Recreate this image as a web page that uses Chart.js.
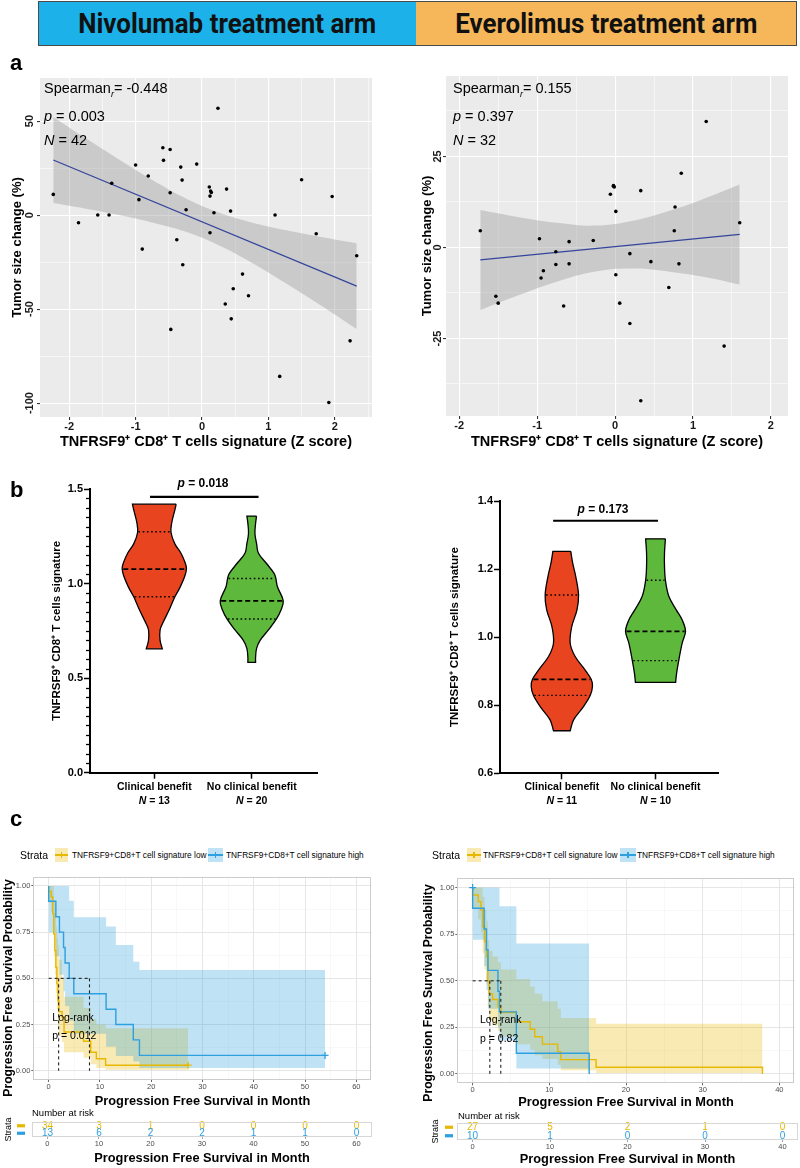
<!DOCTYPE html>
<html>
<head>
<meta charset="utf-8">
<title>TNFRSF9+ CD8+ T cells signature</title>
<script src="https://cdn.jsdelivr.net/npm/chart.js@4.4.1/dist/chart.umd.min.js"></script>
<style>
  body { margin: 0; background: #fff; font-family: "Liberation Sans", Arial, sans-serif; }
  #page { position: relative; width: 800px; height: 1168px; overflow: hidden; }
  canvas { position: absolute; }
  .t { position: absolute; white-space: nowrap; line-height: 1; color: #000; }
  .hdr { position: absolute; top: 1px; height: 43px; border: 1px solid #4a4a4a; font-family: Roboto, sans-serif;
         font-weight: 700; font-size: 27px; display: flex; align-items: center; justify-content: center; color: #111; }
  .hdr span { display: inline-block; transform: scaleX(0.96); }
  .key { position: absolute; }
</style>
</head>
<body>
<div id="page">
  <div class="hdr" style="left:38px;width:377px;background:#1cb1e8"><span>Nivolumab treatment arm</span></div>
  <div class="hdr" style="left:416px;width:380px;background:#f6b75a;border-left:none"><span>Everolimus treatment arm</span></div>
</div>
<script>
// ---- a: tumour size change vs signature z score
const nivoZ = [-2.24, -1.86, -1.57, -1.40, -1.36, -1.00, -0.95, -0.90, -0.81, -0.59, -0.58, -0.48, -0.48, -0.47,
  -0.38, -0.32, -0.30, -0.29, -0.24, -0.08, 0.11, 0.13, 0.12, 0.12, 0.18, 0.24, 0.37, 0.35, 0.43, 0.44, 0.47,
  0.61, 0.70, 1.10, 1.17, 1.50, 1.72, 1.96, 1.91, 2.23, 2.33, 0.14];
const nivoChange = [11.0, -4.1, 0, 0, 16.9, 26.6, 8.2, -18.1, 20.8, 35.8, 29.1, 34.9, 11.9, -60.8,
  -13.1, 25.5, 18.6, -26.4, 2.8, 27.1, 14.9, 12.8, 10.1, -9.4, 1.2, 56.8, 13.8, -47.3, 2.1, -55.2, -39.2,
  -31.4, -42.9, 0, -85.8, 18.8, -9.9, 9.9, -99.7, -66.9, -21.6, 12.0];
const nivoFitZ = [-2.24, 2.33];
const nivoFit = [29.3, -37.8];
const nivoBandZ = [-2.24, -1.75, -1.25, -0.75, -0.25, 0.25, 0.75, 1.25, 1.75, 2.33];
const nivoBandHi = [52.2, 40.8, 29.5, 18.7, 9.0, 1.4, -3.9, -8.0, -11.4, -15.0];
const nivoBandLo = [6.4, 3.4, 0.1, -3.9, -8.8, -16.0, -25.3, -36.0, -47.2, -60.6];

const everoZ = [-1.73, -1.53, -1.50, -0.97, -0.95, -0.92, -0.76, -0.76, -0.66, -0.59, -0.59, -0.28, -0.06, -0.02,
  -0.01, 0.01, 0.01, 0.06, 0.19, 0.19, 0.33, 0.33, 0.46, 0.69, 0.76, 0.77, 0.82, 0.85, 1.17, 1.40, 1.60, -0.02];
const everoChange = [4.6, -13.4, -15.3, 2.4, -8.4, -6.4, -1.2, -4.7, -16.1, 1.6, -4.5, 1.9, 14.6, 17.0,
  16.6, 9.9, -7.5, -15.3, -1.7, -20.9, 15.6, -42.1, -3.9, -11.0, 4.6, 11.1, -4.5, 20.4, 34.6, -27.1, 6.8, 16.8];
const everoFitZ = [-1.73, 1.60];
const everoFit = [-3.4, 3.6];
const everoBandZ = [-1.73, -1.25, -0.75, -0.25, 0.25, 0.75, 1.25, 1.60];
const everoBandHi = [10.3, 8.4, 6.8, 6.0, 7.4, 10.4, 14.3, 17.3];
const everoBandLo = [-17.2, -13.2, -9.4, -6.6, -5.8, -6.8, -8.5, -10.2];

// ---- b: violins (levels top to bottom, relative half width, quartiles)
const groups = ['Clinical benefit', 'No clinical benefit'];
const nivoBenefitLv = [1.42, 1.39, 1.32, 1.27, 1.21, 1.16, 1.11, 1.08, 1.04, 0.98, 0.93, 0.86, 0.79, 0.755, 0.70, 0.655];
const nivoBenefitW = [0.68, 0.64, 0.54, 0.52, 0.64, 0.83, 0.96, 1.0, 0.95, 0.80, 0.64, 0.46, 0.26, 0.18, 0.18, 0.25];
const nivoBenefitQ = [0.93, 1.076, 1.274];
const nivoNoBenefitLv = [1.357, 1.318, 1.265, 1.212, 1.16, 1.106, 1.053, 1.027, 0.983, 0.909, 0.86, 0.813, 0.755, 0.70, 0.656, 0.61, 0.583];
const nivoNoBenefitW = [0.15, 0.12, 0.10, 0.15, 0.21, 0.46, 0.70, 0.75, 0.80, 0.98, 0.91, 0.77, 0.52, 0.26, 0.15, 0.12, 0.12];
const nivoNoBenefitQ = [0.813, 0.909, 1.027];
const nivoN = [13, 20];

const everoBenefitLv = [1.252, 1.218, 1.178, 1.124, 1.080, 1.031, 0.982, 0.943, 0.904, 0.876, 0.855, 0.829, 0.796, 0.757, 0.725];
const everoBenefitW = [0.29, 0.35, 0.45, 0.54, 0.49, 0.32, 0.27, 0.43, 0.75, 0.95, 0.99, 0.92, 0.70, 0.38, 0.27];
const everoBenefitQ = [0.829, 0.876, 1.124];
const everoNoBenefitLv = [1.289, 1.247, 1.208, 1.167, 1.120, 1.080, 1.051, 1.017, 0.982, 0.931, 0.893, 0.867];
const everoNoBenefitW = [0.32, 0.29, 0.29, 0.32, 0.43, 0.67, 0.86, 0.97, 0.86, 0.75, 0.68, 0.65];
const everoNoBenefitQ = [0.931, 1.017, 1.167];
const everoN = [11, 10];

// ---- c: progression free survival
const nivoLowT  = [0, 0.5, 0.8, 1.0, 1.2, 1.4, 1.6, 1.8, 2.0, 2.6, 3.0, 6.8, 8.2, 9.3, 11.1, 14.9, 27.2];
const nivoLowS  = [1, 0.97, 0.94, 0.85, 0.74, 0.65, 0.56, 0.47, 0.38, 0.32, 0.29, 0.21, 0.16, 0.10, 0.065, 0.03, 0.03];
const nivoLowHi = [1, 1, 1, 1, 0.92, 0.85, 0.78, 0.72, 0.68, 0.60, 0.50, 0.40, 0.34, 0.28, 0.25, 0.23, 0.23];
const nivoLowLo = [1, 0.91, 0.86, 0.74, 0.62, 0.52, 0.42, 0.33, 0.24, 0.19, 0.155, 0.10, 0.07, 0.035, 0.015, 0.005, 0.005];
const nivoHighT  = [0, 1.4, 2.1, 2.9, 3.2, 4.0, 4.9, 11.2, 13.1, 16.5, 17.7, 38.7, 53.9];
const nivoHighS  = [1, 0.917, 0.833, 0.75, 0.667, 0.583, 0.5, 0.417, 0.333, 0.25, 0.167, 0.083, 0.083];
const nivoHighHi = [1, 1, 1, 1, 1, 1, 0.92, 0.83, 0.78, 0.68, 0.59, 0.545, 0.545];
const nivoHighLo = [1, 0.75, 0.62, 0.52, 0.43, 0.35, 0.27, 0.20, 0.13, 0.08, 0.05, 0.015, 0.015];
const nivoMedian = [1.94, 7.96];
const nivoCensLow = [27.2], nivoCensHigh = [53.9];

const everoLowT  = [0, 0.73, 1.08, 1.3, 1.56, 1.8, 1.98, 2.16, 2.6, 3.3, 3.7, 5.7, 7.5, 8.1, 9.1, 11.1, 11.5, 16.1, 27.1, 37.8, 37.8];
const everoLowS  = [1, 0.96, 0.925, 0.88, 0.79, 0.71, 0.63, 0.50, 0.43, 0.40, 0.36, 0.33, 0.28, 0.24, 0.20, 0.16, 0.12, 0.077, 0.036, 0.036, 0];
const everoLowHi = [1, 1, 1, 1, 0.95, 0.88, 0.82, 0.72, 0.66, 0.63, 0.60, 0.56, 0.51, 0.47, 0.43, 0.39, 0.35, 0.30, 0.27, 0.27, 0.27];
const everoLowLo = [1, 0.89, 0.83, 0.76, 0.65, 0.56, 0.48, 0.36, 0.29, 0.26, 0.23, 0.20, 0.16, 0.13, 0.10, 0.08, 0.05, 0.02, 0.005, 0.005, 0.005];
const everoHighT  = [0, 1.5, 1.8, 2.0, 3.3, 3.5, 5.7, 7.3, 15.2, 15.2];
const everoHighS  = [1, 0.889, 0.778, 0.667, 0.556, 0.444, 0.333, 0.111, 0.111, 0];
const everoHighHi = [1, 1, 1, 1, 1, 1, 0.90, 0.70, 0.70, 0.70];
const everoHighLo = [1, 0.72, 0.58, 0.45, 0.35, 0.25, 0.18, 0.03, 0.03, 0.03];
const everoMedian = [2.24, 3.67];
const everoCensLow = [], everoCensHigh = [0];

// number at risk
const nivoRiskT = [0, 10, 20, 30, 40, 50, 60];
const nivoRiskLow = [34, 3, 1, 0, 0, 0, 0];
const nivoRiskHigh = [13, 6, 2, 2, 1, 1, 0];
const everoRiskT = [0, 10, 20, 30, 40];
const everoRiskLow = [27, 5, 2, 1, 0];
const everoRiskHigh = [10, 1, 0, 0, 0];

const YEL = '#E7B800', BLU = '#2E9FDF';
const SIG = 'TNFRSF9\u207A CD8\u207A T cells signature';
const PFS = 'Progression Free Survival in Month';

Chart.defaults.font.family = '"Liberation Sans", Arial, Helvetica, sans-serif';
Chart.defaults.color = '#000';

const page = document.getElementById('page');
const zip = (xs, ys) => xs.map((x, i) => ({ x, y: ys[i] }));
const isMajor = (v, step) => Math.abs(v / step - Math.round(v / step)) < 1e-6;
function stepTicks(lo, hi, step) {
  const out = [];
  for (let k = Math.ceil(lo / step - 1e-9); k * step <= hi + 1e-9; k++) out.push({ value: +(k * step).toFixed(6) });
  return out;
}
function canvasAt(left, top, w, h) {
  const c = document.createElement('canvas');
  c.width = w; c.height = h;
  c.style.left = left + 'px'; c.style.top = top + 'px';
  c.style.width = w + 'px'; c.style.height = h + 'px';
  page.appendChild(c);
  return c;
}
function text(x, y, html, css, align, rot) {
  const d = document.createElement('div');
  d.className = 't';
  d.innerHTML = html;
  d.style.cssText += css || '';
  d.style.left = x + 'px'; d.style.top = y + 'px';
  const tx = align === 'c' ? '-50%' : align === 'r' ? '-100%' : '0';
  d.style.transform = 'translate(' + tx + ',-50%)' + (rot ? ' rotate(-90deg)' : '');
  page.appendChild(d);
  return d;
}

// plugins
const panel = {
  id: 'panel',
  beforeDraw(chart, args, o) {
    if (!o.bg) return;
    const a = chart.chartArea, ctx = chart.ctx;
    ctx.save(); ctx.fillStyle = o.bg; ctx.fillRect(a.left, a.top, a.width, a.height); ctx.restore();
  },
  afterDraw(chart, args, o) {
    if (!o.border) return;
    const a = chart.chartArea, ctx = chart.ctx;
    ctx.save(); ctx.strokeStyle = o.border; ctx.lineWidth = 1;
    ctx.strokeRect(Math.round(a.left) + 0.5, Math.round(a.top) + 0.5, Math.round(a.width) - 1, Math.round(a.height) - 1);
    ctx.restore();
  }
};
const rotY = {
  id: 'rotY',
  afterDraw(chart, args, o) {
    if (o.x == null) return;
    const s = chart.scales.y, ctx = chart.ctx;
    ctx.save();
    ctx.font = 'bold 11px "Liberation Sans", Arial';
    ctx.fillStyle = '#1a1a1a'; ctx.textAlign = 'center'; ctx.textBaseline = 'middle';
    s.ticks.forEach(t => {
      if (!isMajor(t.value, o.step)) return;
      ctx.save();
      ctx.translate(o.x, s.getPixelForValue(t.value));
      ctx.rotate(-Math.PI / 2);
      ctx.fillText(String(t.value), 0, 0);
      ctx.restore();
    });
    ctx.restore();
  }
};
const minorTicks = {
  id: 'minorTicks',
  afterDraw(chart, args, o) {
    if (!o.step) return;
    const s = chart.scales.y, ctx = chart.ctx, x = chart.chartArea.left;
    ctx.save(); ctx.strokeStyle = '#000'; ctx.lineWidth = 1.3;
    stepTicks(s.min, s.max, o.step).forEach(t => {
      if (isMajor(t.value, o.major)) return;
      const y = Math.round(s.getPixelForValue(t.value)) + 0.5;
      ctx.beginPath(); ctx.moveTo(x - 4, y); ctx.lineTo(x, y); ctx.stroke();
    });
    ctx.restore();
  }
};
const riskText = {
  id: 'riskText',
  afterDatasetsDraw(chart, args, o) {
    if (!o.on) return;
    const ctx = chart.ctx, a = chart.chartArea;
    ctx.save();
    ctx.font = '10px "Liberation Sans", Arial';
    ctx.textAlign = 'center'; ctx.textBaseline = 'middle';
    chart.data.datasets.forEach((ds, i) => {
      const meta = chart.getDatasetMeta(i);
      ctx.fillStyle = ds.borderColor;
      meta.data.forEach((pt, k) => ctx.fillText(String(ds.data[k].n), pt.x, pt.y));
      const y = meta.data[0].y;
      ctx.fillRect(a.left + o.barX, y - 1.6, 8, 3.2);
    });
    ctx.restore();
  }
};
Chart.register(panel, rotY, minorTicks, riskText);

const base = {
  responsive: false, animation: false, events: [],
  plugins: { legend: { display: false }, tooltip: { enabled: false } }
};

// ---------- scatter panels
function scatterChart(cv, o) {
  return new Chart(cv, {
    type: 'line',
    data: { datasets: [
      { data: zip(o.z, o.change), showLine: false, pointRadius: 1.8, pointBackgroundColor: '#000', pointBorderWidth: 0, order: 0 },
      { data: zip(o.fitZ, o.fit), borderColor: '#34449b', borderWidth: 1.2, pointRadius: 0, order: 1 },
      { data: zip(o.bandZ, o.bandHi), borderWidth: 0, borderColor: 'rgba(0,0,0,0)', pointRadius: 0, tension: 0.4,
        fill: '+1', backgroundColor: 'rgba(153,153,153,0.4)', order: 2 },
      { data: zip(o.bandZ, o.bandLo), borderWidth: 0, borderColor: 'rgba(0,0,0,0)', pointRadius: 0, tension: 0.4, fill: false, order: 3 }
    ]},
    options: {
      ...base,
      layout: { padding: o.pad },
      plugins: { ...base.plugins, panel: { bg: '#ebebeb' }, rotY: { x: o.rotX, step: o.yMajor } },
      scales: {
        x: {
          type: 'linear', min: o.xMin, max: o.xMax,
          afterBuildTicks: s => { s.ticks = stepTicks(o.xMin, o.xMax, 0.5); },
          afterFit: s => { s.height = o.xh; },
          grid: { color: '#fff', lineWidth: c => (c.tick && isMajor(c.tick.value, 1)) ? 1.1 : 0.55, tickLength: 3,
                  tickColor: c => (c.tick && isMajor(c.tick.value, 1)) ? '#333' : 'rgba(0,0,0,0)' },
          border: { display: false },
          ticks: { autoSkip: false, maxRotation: 0, padding: 0, color: '#1a1a1a', font: { weight: 'bold', size: 11 },
                   callback: v => isMajor(v, 1) ? String(v) : '' },
          title: { display: true, text: SIG + ' (Z score)', color: '#000', font: { weight: 'bold', size: 14.5 },
                   padding: { top: 0, bottom: o.xTitlePad } }
        },
        y: {
          min: o.yMin, max: o.yMax,
          afterBuildTicks: s => { s.ticks = stepTicks(o.yMin, o.yMax, o.yMajor / 2); },
          afterFit: s => { s.width = o.yw; },
          grid: { color: '#fff', lineWidth: c => (c.tick && isMajor(c.tick.value, o.yMajor)) ? 1.1 : 0.55, tickLength: 3,
                  tickColor: c => (c.tick && isMajor(c.tick.value, o.yMajor)) ? '#333' : 'rgba(0,0,0,0)' },
          border: { display: false },
          ticks: { display: false },
          title: { display: true, text: 'Tumor size change (%)', color: '#000', font: { weight: 'bold', size: 13 },
                   padding: { top: o.yTitlePad, bottom: 0 } }
        }
      }
    }
  });
}

scatterChart(canvasAt(0, 70, 380, 385), {
  z: nivoZ, change: nivoChange, fitZ: nivoFitZ, fit: nivoFit, bandZ: nivoBandZ, bandHi: nivoBandHi, bandLo: nivoBandLo,
  xMin: -2.44, xMax: 2.56, yMin: -107.4, yMax: 72.9, yMajor: 50,
  pad: { left: 0, top: 8, right: 8, bottom: 3 }, yw: 40, xh: 35, yTitlePad: 9.2, xTitlePad: 1.3, rotX: 30
});
scatterChart(canvasAt(400, 68, 396, 387), {
  z: everoZ, change: everoChange, fitZ: everoFitZ, fit: everoFit, bandZ: everoBandZ, bandHi: everoBandHi, bandLo: everoBandLo,
  xMin: -2.17, xMax: 2.22, yMin: -46.3, yMax: 47.1, yMajor: 25,
  pad: { left: 0, top: 8, right: 8, bottom: 3 }, yw: 46, xh: 36, yTitlePad: 19.2, xTitlePad: 1, rotX: 38
});

const stat = 'font-size:14.5px;';
text(44, 90, 'Spearman<sub style="font-size:9px;font-style:italic">r</sub>= -0.448', stat);
text(44, 115.7, '<i>p</i> = 0.003', stat);
text(44, 140, '<i>N</i> = 42', stat);
text(453, 90, 'Spearman<sub style="font-size:9px;font-style:italic">r</sub>= 0.155', stat);
text(453, 115.7, '<i>p</i> = 0.397', stat);
text(453, 140, '<i>N</i> = 32', stat);

// ---------- violin panels
const HW = 0.33;
function widthAt(lv, w, q) {
  for (let k = 0; k < lv.length - 1; k++) {
    if (q <= lv[k] && q >= lv[k + 1]) {
      const f = (lv[k] - q) / (lv[k] - lv[k + 1]);
      return w[k] + f * (w[k + 1] - w[k]);
    }
  }
  return w[w.length - 1];
}
function violinChart(cv, o) {
  const ds = [];
  o.violins.forEach((g, i) => {
    const cx = i + 1;
    const right = g.lv.map((v, k) => ({ x: cx + g.w[k] * HW, y: v }));
    const left = g.lv.map((v, k) => ({ x: cx - g.w[k] * HW, y: v })).reverse();
    const dup = a => [a[0], ...a, a[a.length - 1]];
    ds.push({ data: [...dup(right), ...dup(left), right[0]], fill: 'shape', backgroundColor: g.color,
              borderColor: '#000', borderWidth: 1.3, pointRadius: 0, tension: 0.35, order: 5 });
    g.q.forEach((q, k) => {
      const h = widthAt(g.lv, g.w, q) * HW - 0.01;
      ds.push({ data: [{ x: cx - h, y: q }, { x: cx + h, y: q }], borderColor: '#000',
                borderWidth: k === 1 ? 1.7 : 1.4, borderDash: k === 1 ? [5, 3] : [1.6, 2.6], pointRadius: 0, order: 1 });
    });
  });
  ds.push({ data: o.bar, borderColor: '#000', borderWidth: 2.2, pointRadius: 0, order: 0 });
  return new Chart(cv, {
    type: 'line',
    data: { datasets: ds },
    options: {
      ...base,
      layout: { padding: o.pad },
      plugins: { ...base.plugins, minorTicks: { step: o.minor, major: o.step } },
      scales: {
        x: {
          type: 'linear', min: 0.34, max: 2.67,
          afterBuildTicks: s => { s.ticks = groups.map((g, i) => ({ value: i + 1 })); },
          afterFit: s => { s.height = o.xh; },
          grid: { drawOnChartArea: false, tickLength: 6, tickColor: '#000', tickWidth: 1.5 },
          border: { color: '#000', width: 2 },
          ticks: { autoSkip: false, maxRotation: 0, padding: 2, color: '#000', font: { weight: 'bold', size: 10.5 },
                   callback: v => groups[Math.round(v) - 1] }
        },
        y: {
          min: o.yMin, max: o.yMax,
          afterBuildTicks: s => { s.ticks = stepTicks(o.yMin, o.yMax, o.step); },
          afterFit: s => { s.width = o.yw; },
          grid: { drawOnChartArea: false, tickLength: 6, tickColor: '#000', tickWidth: 1.5 },
          border: { color: '#000', width: 2 },
          ticks: { padding: 1, color: '#000', font: { weight: 'bold', size: 11 }, callback: v => v.toFixed(1) },
          title: { display: true, text: SIG, color: '#000', font: { weight: 'bold', size: 11.5 },
                   padding: { top: o.yTitlePad, bottom: 0 } }
        }
      }
    }
  });
}

const RED = '#e8441f', GRN = '#5db83b';
const vL = violinChart(canvasAt(0, 470, 330, 340), {
  violins: [
    { lv: nivoBenefitLv, w: nivoBenefitW, q: nivoBenefitQ, color: RED },
    { lv: nivoNoBenefitLv, w: nivoNoBenefitW, q: nivoNoBenefitQ, color: GRN }
  ],
  bar: [{ x: 0.956, y: 1.458 }, { x: 2.07, y: 1.458 }],
  yMin: 0, yMax: 1.5, step: 0.5, minor: 0.05,
  pad: { left: 0, top: 19, right: 13, bottom: 2.3 }, yw: 90, xh: 35, yTitlePad: 50.1
});
const vR = violinChart(canvasAt(400, 480, 330, 330), {
  violins: [
    { lv: everoBenefitLv, w: everoBenefitW, q: everoBenefitQ, color: RED },
    { lv: everoNoBenefitLv, w: everoNoBenefitW, q: everoNoBenefitQ, color: GRN }
  ],
  bar: [{ x: 0.907, y: 1.342 }, { x: 2.026, y: 1.342 }],
  yMin: 0.6, yMax: 1.4, step: 0.2, minor: 0,
  pad: { left: 0, top: 21, right: 11.7, bottom: 1.7 }, yw: 100, xh: 35, yTitlePad: 48.1
});
const bold = 'font-weight:bold;font-size:12px;';
text(203, 483, '<i>p</i> = 0.018', bold, 'c');
text(603, 509, '<i>p</i> = 0.173', bold, 'c');
[[vL, 0, nivoN], [vR, 400, everoN]].forEach(([ch, off, ns]) => {
  ns.forEach((n, i) => text(off + ch.scales.x.getPixelForValue(i + 1), 800, '<i>N</i> = ' + n,
    'font-weight:bold;font-size:10.5px;', 'c'));
});

// ---------- survival panels
function kmChart(cv, o) {
  const step = { stepped: 'after', pointRadius: 0 };
  const band = { ...step, borderWidth: 0, borderColor: 'rgba(0,0,0,0)' };
  const dash = { borderColor: '#222', borderWidth: 1.1, borderDash: [3, 3], pointRadius: 0, order: 1 };
  const mx = Math.max(...o.med);
  const cens = (ts, t, s, col) => ({
    data: ts.map(c => ({ x: c, y: s[t.lastIndexOf(c) >= 0 ? t.lastIndexOf(c) : s.length - 1] })),
    showLine: false, pointStyle: 'cross', pointRadius: 3.5, borderColor: col, borderWidth: 1.3, order: 0
  });
  return new Chart(cv, {
    type: 'line',
    data: { datasets: [
      { ...band, data: zip(o.lowT, o.lowHi), fill: '+1', backgroundColor: 'rgba(231,184,0,0.3)', order: 9 },
      { ...band, data: zip(o.lowT, o.lowLo), fill: false, order: 9 },
      { ...band, data: zip(o.highT, o.highHi), fill: '+1', backgroundColor: 'rgba(46,159,223,0.3)', order: 8 },
      { ...band, data: zip(o.highT, o.highLo), fill: false, order: 8 },
      { ...step, data: zip(o.lowT, o.lowS), borderColor: YEL, borderWidth: 1.4, order: 3 },
      { ...step, data: zip(o.highT, o.highS), borderColor: BLU, borderWidth: 1.4, order: 2 },
      { ...dash, data: [{ x: 0, y: 0.5 }, { x: mx, y: 0.5 }] },
      { ...dash, data: [{ x: o.med[0], y: 0.5 }, { x: o.med[0], y: 0 }] },
      { ...dash, data: [{ x: o.med[1], y: 0.5 }, { x: o.med[1], y: 0 }] },
      cens(o.censLow, o.lowT, o.lowS, YEL),
      cens(o.censHigh, o.highT, o.highS, BLU)
    ]},
    options: {
      ...base,
      layout: { padding: o.pad },
      plugins: { ...base.plugins, panel: { border: '#cccccc' } },
      scales: {
        x: {
          type: 'linear', min: o.xMin, max: o.xMax,
          afterBuildTicks: s => { s.ticks = stepTicks(o.xMin, o.xMax, 5); },
          afterFit: s => { s.height = o.xh; },
          grid: { color: c => (c.tick && isMajor(c.tick.value, 10)) ? '#e3e3e3' : '#f1f1f1',
                  lineWidth: c => (c.tick && isMajor(c.tick.value, 10)) ? 0.9 : 0.5, tickLength: 2,
                  tickColor: c => (c.tick && isMajor(c.tick.value, 10)) ? '#555' : 'rgba(0,0,0,0)' },
          border: { display: false },
          ticks: { autoSkip: false, maxRotation: 0, padding: 0.5, color: '#4d4d4d', font: { size: 7.5 },
                   callback: v => isMajor(v, 10) ? String(v) : '' },
          title: { display: true, text: PFS, color: '#000', font: { weight: 'bold', size: 12.8 }, padding: { top: 0, bottom: 0 } }
        },
        y: {
          min: -0.05, max: 1.05,
          afterBuildTicks: s => { s.ticks = stepTicks(-0.05, 1.05, 0.125); },
          afterFit: s => { s.width = o.yw; },
          grid: { color: c => (c.tick && isMajor(c.tick.value, 0.25)) ? '#e3e3e3' : '#f1f1f1',
                  lineWidth: c => (c.tick && isMajor(c.tick.value, 0.25)) ? 0.9 : 0.5, tickLength: 2,
                  tickColor: c => (c.tick && isMajor(c.tick.value, 0.25)) ? '#555' : 'rgba(0,0,0,0)' },
          border: { display: false },
          ticks: { autoSkip: false, padding: 1, color: '#4d4d4d', font: { size: 7.5 },
                   callback: v => isMajor(v, 0.25) ? v.toFixed(2) : '' }
        }
      }
    }
  });
}

kmChart(canvasAt(0, 868, 380, 242), {
  lowT: nivoLowT, lowS: nivoLowS, lowHi: nivoLowHi, lowLo: nivoLowLo,
  highT: nivoHighT, highS: nivoHighS, highHi: nivoHighHi, highLo: nivoHighLo,
  med: nivoMedian, censLow: nivoCensLow, censHigh: nivoCensHigh,
  xMin: -3, xMax: 63, pad: { left: 0, top: 8.7, right: 8.3, bottom: 0.9 }, yw: 33.3, xh: 29.1
});
kmChart(canvasAt(400, 870, 400, 241), {
  lowT: everoLowT, lowS: everoLowS, lowHi: everoLowHi, lowLo: everoLowLo,
  highT: everoHighT, highS: everoHighS, highHi: everoHighHi, highLo: everoHighLo,
  med: everoMedian, censLow: everoCensLow, censHigh: everoCensHigh,
  xMin: -2, xMax: 42, pad: { left: 0, top: 8.3, right: 1.7, bottom: 0.6 }, yw: 57.3, xh: 27.1
});

function riskChart(cv, o) {
  const row = (t, n, y, col) => ({ data: t.map((x, i) => ({ x, y, n: n[i] })), showLine: false, pointRadius: 0, borderColor: col });
  return new Chart(cv, {
    type: 'line',
    data: { datasets: [row(o.t, o.low, 1.5, YEL), row(o.t, o.high, 0.5, BLU)] },
    options: {
      ...base,
      layout: { padding: o.pad },
      plugins: { ...base.plugins, panel: { border: '#d6d6d6' }, riskText: { on: true, barX: o.barX } },
      scales: {
        x: {
          type: 'linear', min: o.xMin, max: o.xMax,
          afterBuildTicks: s => { s.ticks = stepTicks(o.xMin, o.xMax, 10); },
          afterFit: s => { s.height = o.xh; },
          grid: { color: '#eeeeee', lineWidth: 0.6, tickLength: 2, tickColor: '#666' },
          border: { display: false },
          ticks: { autoSkip: false, maxRotation: 0, padding: 0.5, color: '#4d4d4d', font: { size: 7.5 } },
          title: { display: true, text: PFS, color: '#000', font: { weight: 'bold', size: 12.8 }, padding: { top: 0, bottom: 0 } }
        },
        y: {
          min: 0, max: 2,
          afterBuildTicks: s => { s.ticks = []; },
          afterFit: s => { s.width = o.yw; },
          grid: { display: false }, border: { display: false }, ticks: { display: false },
          title: { display: true, text: 'Strata', color: '#000', font: { size: 9 }, padding: { top: o.titlePad, bottom: 0 } }
        }
      }
    }
  });
}
riskChart(canvasAt(0, 1116, 380, 51), {
  t: nivoRiskT, low: nivoRiskLow, high: nivoRiskHigh, xMin: -3, xMax: 63,
  pad: { left: 0, top: 6, right: 8, bottom: 1.3 }, yw: 32, xh: 28.7, titlePad: 3.6, barX: -15
});
riskChart(canvasAt(400, 1117, 400, 51), {
  t: everoRiskT, low: everoRiskLow, high: everoRiskHigh, xMin: -2, xMax: 42,
  pad: { left: 0, top: 6, right: 2, bottom: 1.0 }, yw: 57, xh: 27, titlePad: 30.6, barX: -12
});

// survival titles, legends and labels
const ytl = 'font-weight:bold;font-size:12.2px;';
text(8, 988, 'Progression Free Survival Probability', ytl, 'c', true);
text(428, 993, 'Progression Free Survival Probability', ytl, 'c', true);
text(52.3, 1016.7, 'Log-rank', 'font-size:10.5px;');
text(52.3, 1035, 'p = 0.012', 'font-size:10.5px;');
text(480, 1019, 'Log-rank', 'font-size:10.5px;');
text(480, 1038, 'p = 0.82', 'font-size:10.5px;');
text(32, 1113, 'Number at risk', 'font-size:9.5px;');
text(458, 1115.7, 'Number at risk', 'font-size:9.5px;');

function legendKey(x, w, col, fill) {
  const k = document.createElement('div');
  k.className = 'key';
  k.style.cssText = 'left:' + x + 'px;top:848px;width:' + w + 'px;height:14px;background:' + fill;
  k.innerHTML = '<div style="position:absolute;left:0;right:0;top:6.3px;height:1.4px;background:' + col + '"></div>' +
                '<div style="position:absolute;left:' + (w / 2 - 0.7) + 'px;top:4px;width:1.4px;height:6px;background:' + col + '"></div>';
  page.appendChild(k);
}
[[0, 20, 55, 13, 72, 208, 15, 226], [400, 432, 467, 14, 483, 620, 16, 637]].forEach(([o, sx, k1, w1, t1, k2, w2, t2]) => {
  text(sx, 855, 'Strata', 'font-size:10.5px;');
  legendKey(k1, w1, YEL, 'rgba(231,184,0,0.3)');
  text(t1, 855, 'TNFRSF9+CD8+T cell signature low', 'font-size:8.3px;');
  legendKey(k2, w2, BLU, 'rgba(46,159,223,0.3)');
  text(t2, 855, 'TNFRSF9+CD8+T cell signature high', 'font-size:8.3px;');
});

// panel letters
text(10, 63, 'a', 'font-weight:bold;font-size:22px;');
text(10, 490, 'b', 'font-weight:bold;font-size:22px;');
text(10, 819, 'c', 'font-weight:bold;font-size:22px;');
</script>
</body>
</html>
